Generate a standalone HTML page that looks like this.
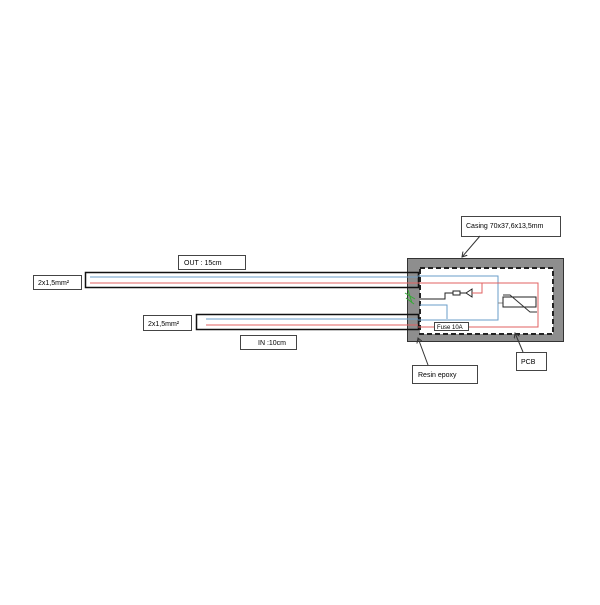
<!DOCTYPE html><html><head><style>body{margin:0;background:#fff}</style></head><body>
<svg width="600" height="600" xmlns="http://www.w3.org/2000/svg" font-family="Liberation Sans, sans-serif" font-size="7">
<defs><marker id="a" markerWidth="6" markerHeight="6" refX="5" refY="3" orient="auto"><path d="M0,0 L5,3 L0,6" fill="none" stroke="#333"/></marker></defs>
<rect x="407.5" y="258.5" width="156" height="83" fill="#8e8e8e" stroke="#333"/>
<rect x="420" y="268" width="133" height="66" fill="#fff" stroke="#222" stroke-width="2" stroke-dasharray="5,3"/>
<rect x="85.5" y="272.5" width="333" height="15" fill="none" stroke="#111" stroke-width="1.5"/>
<line x1="90" y1="277" x2="418" y2="277" stroke="#6a9ec8"/>
<line x1="90" y1="283" x2="418" y2="283" stroke="#e06060"/>
<rect x="196.5" y="314.5" width="222" height="15" fill="none" stroke="#111" stroke-width="1.5"/>
<line x1="206" y1="319" x2="418" y2="319" stroke="#6a9ec8"/>
<line x1="206" y1="325" x2="418" y2="325" stroke="#e06060"/>
<polyline points="418,276 498,276 498,320 418,320" fill="none" stroke="#6a9ec8"/>
<polyline points="418,283 538,283 538,327 418,327" fill="none" stroke="#e06060"/>
<polyline points="420,305 447,305 447,319" fill="none" stroke="#6a9ec8"/>
<polyline points="420,299 445,299 445,293 453,293" fill="none" stroke="#222"/>
<rect x="453" y="291" width="7" height="4" fill="none" stroke="#222"/>
<line x1="460" y1="293" x2="466" y2="293" stroke="#222"/>
<polygon points="466,293 472,289 472,297" fill="none" stroke="#222"/>
<polyline points="472,293 482,293 482,283" fill="none" stroke="#e06060"/>
<line x1="498" y1="303" x2="503" y2="303" stroke="#888"/>
<rect x="503" y="297" width="33" height="10" fill="none" stroke="#222"/>
<polyline points="503,295 510,295 530,312 537,312" fill="none" stroke="#333"/>
<path d="M405,293 L415,299 M406,298 L414,304 M408,290 L412,303" stroke="#3a3" fill="none"/>
<rect x="434.5" y="322.5" width="34" height="8" fill="#fff" stroke="#444"/>
<text x="437" y="329" font-size="6">Fuse 10A</text>
<rect x="33.5" y="275.5" width="48" height="14" fill="#fff" stroke="#444"/>
<text x="38" y="285">2x1,5mm²</text>
<rect x="178.5" y="255.5" width="67" height="14" fill="#fff" stroke="#444"/>
<text x="184" y="265">OUT : 15cm</text>
<rect x="143.5" y="315.5" width="48" height="15" fill="#fff" stroke="#444"/>
<text x="148" y="326">2x1,5mm²</text>
<rect x="240.5" y="335.5" width="56" height="14" fill="#fff" stroke="#444"/>
<text x="258" y="345">IN :10cm</text>
<rect x="461.5" y="216.5" width="99" height="20" fill="#fff" stroke="#444"/>
<text x="466" y="228">Casing 70x37,6x13,5mm</text>
<line x1="480" y1="236" x2="462" y2="257" stroke="#333" marker-end="url(#a)"/>
<rect x="412.5" y="365.5" width="65" height="18" fill="#fff" stroke="#444"/>
<text x="418" y="377">Resin epoxy</text>
<line x1="428" y1="365" x2="418" y2="338" stroke="#333" marker-end="url(#a)"/>
<rect x="516.5" y="352.5" width="30" height="18" fill="#fff" stroke="#444"/>
<text x="521" y="364">PCB</text>
<line x1="523" y1="352" x2="515" y2="333" stroke="#333" marker-end="url(#a)"/>
</svg></body></html>
